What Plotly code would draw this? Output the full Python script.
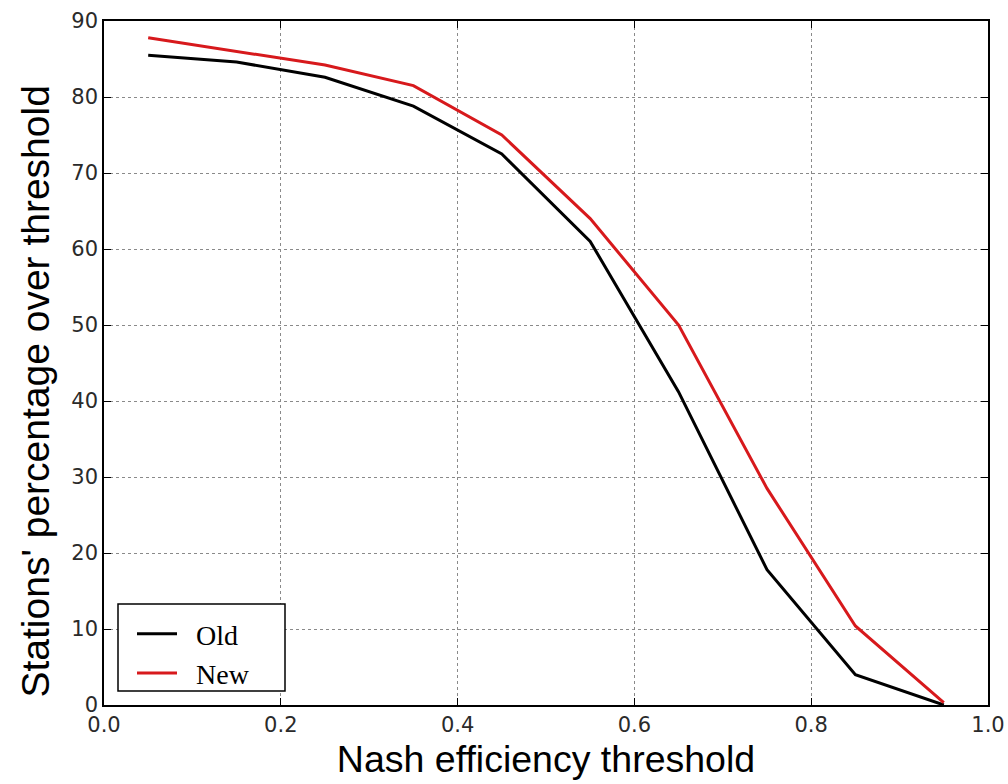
import plotly.graph_objects as go

thresholds = [0.05, 0.15, 0.25, 0.35, 0.45, 0.55, 0.65, 0.75, 0.85, 0.95]
old_pct = [85.5, 84.6, 82.6, 78.8, 72.5, 61.0, 41.2, 17.8, 4.0, 0.0]
new_pct = [87.8, 86.0, 84.2, 81.5, 75.0, 64.0, 50.0, 28.5, 10.4, 0.3]

x_ticks = [0.0, 0.2, 0.4, 0.6, 0.8, 1.0]
x_tick_labels = ["0.0", "0.2", "0.4", "0.6", "0.8", "1.0"]
y_ticks = [0, 10, 20, 30, 40, 50, 60, 70, 80, 90]

x_title = "Nash efficiency threshold"
y_title = "Stations' percentage over threshold"

pad = "\u00a0\u00a0"

fig = go.Figure()
fig.add_trace(go.Scatter(x=thresholds, y=old_pct, mode="lines", name=pad + "Old",
                         line=dict(color="black", width=3)))
fig.add_trace(go.Scatter(x=thresholds, y=new_pct, mode="lines", name=pad + "New",
                         line=dict(color="#d7191c", width=3)))

axis_common = dict(
    showline=True, linecolor="black", linewidth=1.5, mirror="ticks",
    ticks="inside", ticklen=7, tickcolor="black", tickwidth=1,
    showgrid=True, gridcolor="#8a8a8a", griddash="dot", gridwidth=1,
    zeroline=False, automargin=False,
    tickfont=dict(family="DejaVu Sans, sans-serif", size=21, color="#2a2a2a"),
)

fig.update_xaxes(range=[0, 1], tickvals=x_ticks, ticktext=x_tick_labels,
                 title=dict(text=x_title,
                            font=dict(family="Liberation Sans, Arial, sans-serif", size=37.5, color="black"),
                            standoff=10),
                 **axis_common)
fig.update_yaxes(range=[0, 90], tickvals=y_ticks, **axis_common)

# y-axis title as rotated annotation (sits slightly below the axis centre, as in the reference)
fig.add_annotation(text=y_title, textangle=-90, showarrow=False,
                   xref="paper", yref="paper",
                   x=(34.5 - 104) / 884, y=(705 - 392) / 684,
                   xanchor="center", yanchor="middle",
                   font=dict(family="Liberation Sans, Arial, sans-serif", size=39, color="black"))

# legend frame (decorative box behind the legend entries)
fig.add_shape(type="rect", xref="paper", yref="paper",
              x0=(118 - 104) / 884, x1=(285 - 104) / 884,
              y0=(705 - 691) / 684, y1=(705 - 604) / 684,
              line=dict(color="black", width=1.5), fillcolor="white", layer="above")

fig.update_layout(
    width=1008, height=784,
    margin=dict(l=104, r=20, t=21, b=79),
    paper_bgcolor="white", plot_bgcolor="white",
    showlegend=True,
    legend=dict(x=(132 - 104) / 884, y=(705 - 609) / 684, xanchor="left", yanchor="top",
                bgcolor="rgba(0,0,0,0)", borderwidth=0,
                font=dict(family="Liberation Serif, Times New Roman, serif", size=28, color="black"),
                tracegroupgap=0, itemwidth=40),
)

fig.write_html("out.html")
